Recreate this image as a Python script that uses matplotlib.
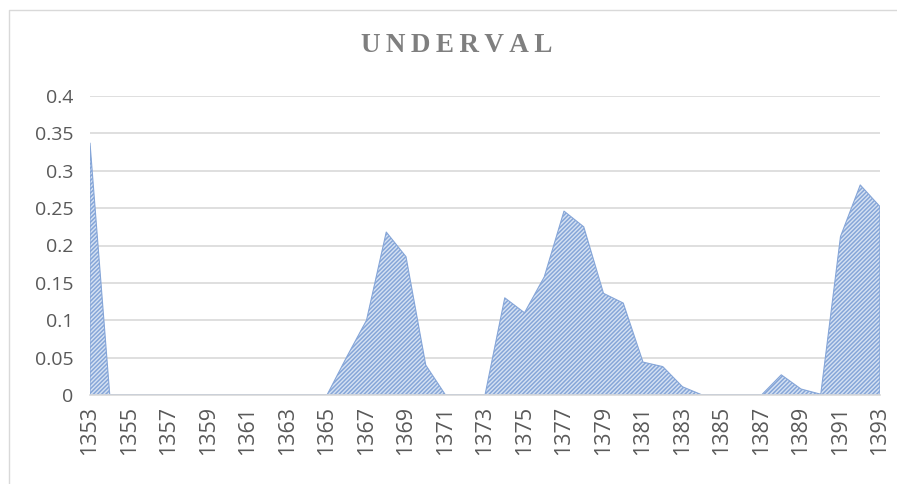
import numpy as np
import matplotlib.pyplot as plt
from matplotlib.lines import Line2D

# datos
anios = list(range(1353, 1394))
underval = [0.337, 0, 0, 0, 0, 0, 0, 0, 0, 0,
            0, 0, 0, 0.051, 0.10, 0.218, 0.185, 0.04, 0, 0,
            0, 0.13, 0.11, 0.158, 0.246, 0.225, 0.136, 0.123, 0.044, 0.038,
            0.011, 0, 0, 0, 0, 0.027, 0.008, 0.001, 0.212, 0.281,
            0.252]
ticks_y = [0, 0.05, 0.1, 0.15, 0.2, 0.25, 0.3, 0.35, 0.4]
ticks_y_txt = ["0", "0.05", "0.1", "0.15", "0.2", "0.25", "0.3", "0.35", "0.4"]

plt.rcParams['hatch.linewidth'] = 1.1
plt.rcParams['hatch.color'] = '#4f80c8'

fig = plt.figure(figsize=(8.97, 4.84), dpi=100)
ax = fig.add_axes([90/897, 89/484, 790/897, 299/484])

ax.fill_between(anios, underval, 0, facecolor='#d6e2f3', edgecolor='#86a6d8',
                hatch='/' * 8, linewidth=0.8, zorder=2)

ax.set_xlim(1353, 1393)
ax.set_ylim(0, 0.4)
ax.set_yticks(ticks_y)
ax.set_yticklabels(ticks_y_txt)
ax.set_xticks(anios[::2])
ax.set_xticklabels([str(a) for a in anios[::2]], rotation=90)
ax.grid(axis='y', color='#d9d9d9', linewidth=1.2, zorder=0)
ax.set_axisbelow(True)
for s in ['top', 'right', 'left']:
    ax.spines[s].set_visible(False)
ax.spines['bottom'].set_color('#d9d9d9')
ax.spines['bottom'].set_linewidth(1.2)
ax.tick_params(axis='both', length=0, colors='#595959')
ax.tick_params(axis='y', labelsize=14, pad=12)
ax.tick_params(axis='x', labelsize=15.5, pad=8)
for lbl in ax.get_xticklabels() + ax.get_yticklabels():
    lbl.set_fontfamily('Open Sans')

fig.text(457/897, 1 - 46/484, "U\u2009N\u2009D\u2009E\u2009R\u2009V\u2009A\u2009L",
         ha='center', va='center', fontsize=19.5, fontweight='bold',
         color='#7f7f7f', family='Liberation Serif')

# marco del grafico (solo arriba e izquierda visibles)
fig.add_artist(Line2D([9/897, 9/897, 1], [0, 1 - 10/484, 1 - 10/484],
                      transform=fig.transFigure, color='#d9d9d9', linewidth=1))

fig.savefig('out.png', dpi=100)
